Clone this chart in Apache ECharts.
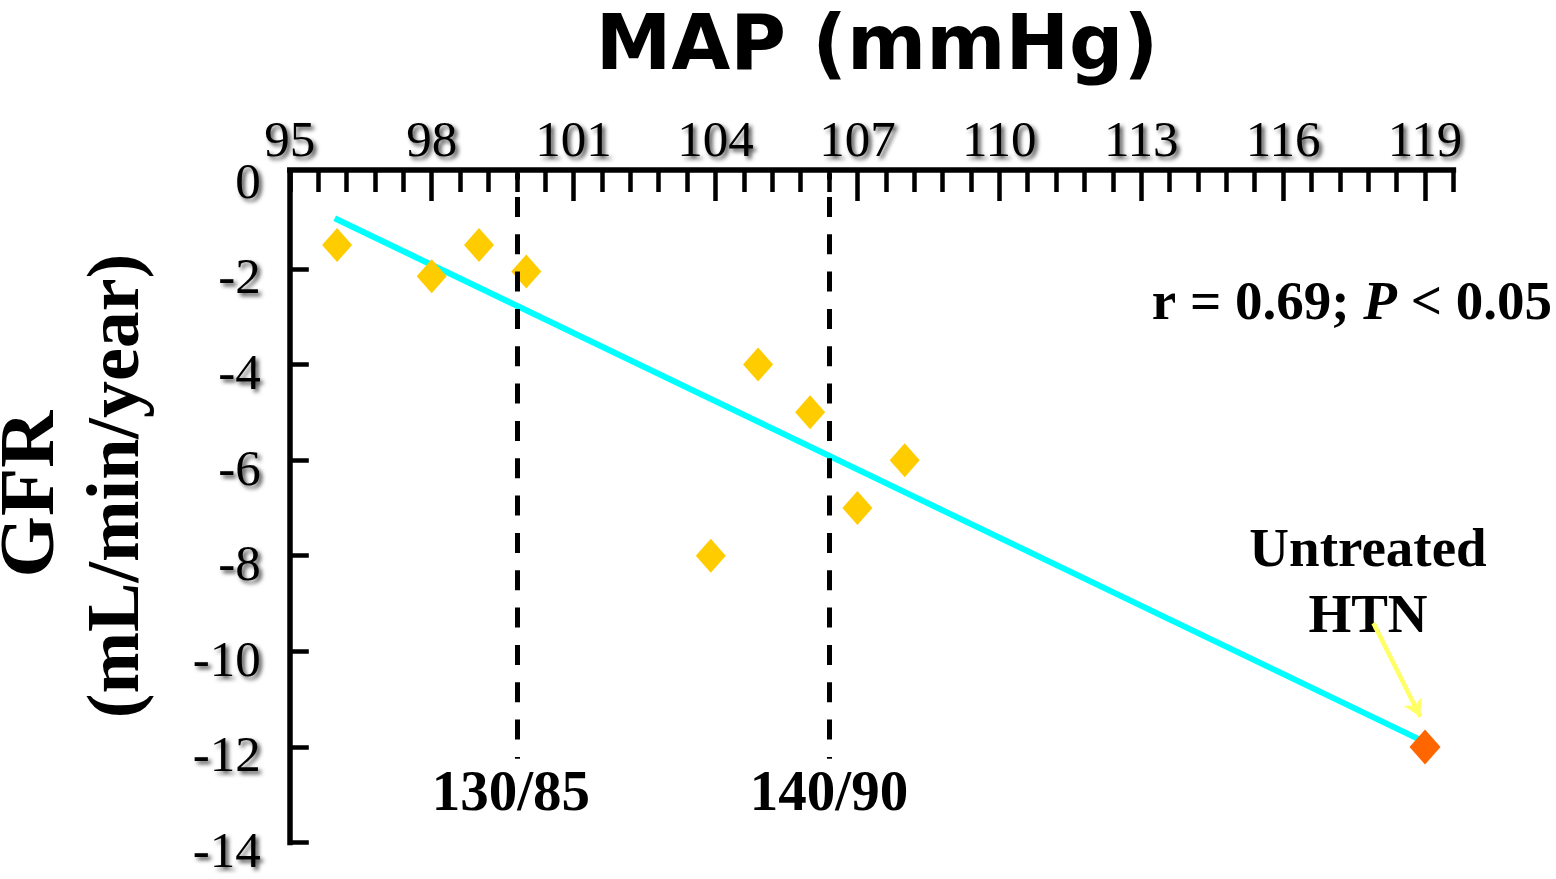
<!DOCTYPE html>
<html>
<head>
<meta charset="utf-8">
<title>GFR decline vs MAP</title>
<script src="https://cdn.jsdelivr.net/npm/echarts@6/dist/echarts.min.js"></script>
<style>
  html, body { margin: 0; padding: 0; background: #ffffff; }
  #chart { width: 1556px; height: 879px; }
</style>
</head>
<body>
<div id="chart"></div>
<script>
// Top axis: mean arterial pressure (mmHg)
const mapLabelValues = [95, 98, 101, 104, 107, 110, 113, 116, 119];
const mapMajorTicks = [98, 101, 104, 107, 110, 113, 116, 119];
// Left axis: GFR change (mL/min/year)
const gfrTickValues = [-2, -4, -6, -8, -10, -12, -14];

// Treated trial groups
const trialMap = [96, 98, 99, 100, 103.9, 104.9, 106, 107, 108];
const trialGfr = [-1.5, -2.15, -1.5, -2.05, -8, -4, -5, -7, -6];

// Untreated hypertension group
const untreatedMap = [119];
const untreatedGfr = [-12];

// Regression line end points
const fitMap = [95.95, 119];
const fitGfr = [-0.94, -11.9];

// Blood pressure targets expressed as MAP
const bpTargetMap = [99.8, 106.4];
const bpTargetNames = ['130/85', '140/90'];
const bpTargetBottom = -12.25;

// Annotation arrow from the label to the untreated point
const arrowFrom = [117.91, -9.41];
const arrowTo = [118.9, -11.37];

const serif = "'Liberation Serif', 'Times New Roman', serif";
const shadow = {
  textShadowColor: 'rgba(0,0,0,0.7)',
  textShadowBlur: 4,
  textShadowOffsetX: 3,
  textShadowOffsetY: 3
};

const chart = echarts.init(document.getElementById('chart'), null, { renderer: 'canvas' });

const option = {
  animation: false,
  backgroundColor: '#ffffff',
  grid: {
    left: 289.8,
    top: 173.4,
    right: 102.6,
    bottom: 36.5,
    containLabel: false,
    outerBoundsMode: 'none'
  },
  xAxis: [
    {
      type: 'value',
      position: 'top',
      min: 95,
      max: 119.6,
      interval: 0.6,
      offset: 4,
      axisLine: { show: true, onZero: false, lineStyle: { color: '#000', width: 5.5, cap: 'square' } },
      axisTick: { show: true, inside: true, length: 22.6, lineStyle: { color: '#000', width: 4.5 } },
      axisLabel: { show: false },
      splitLine: { show: false }
    },
    {
      type: 'value',
      position: 'top',
      min: 95,
      max: 119.6,
      offset: 4,
      axisLine: { show: false, onZero: false },
      axisTick: {
        show: true, inside: true, length: 31.6,
        customValues: mapMajorTicks,
        lineStyle: { color: '#000', width: 4.5 }
      },
      axisLabel: Object.assign({
        show: true,
        customValues: mapLabelValues,
        margin: 1,
        color: '#000',
        fontFamily: serif,
        fontSize: 51
      }, shadow),
      splitLine: { show: false }
    }
  ],
  yAxis: {
    type: 'value',
    position: 'left',
    min: -14,
    max: 0,
    interval: 2,
    axisLine: { show: true, onZero: false, lineStyle: { color: '#000', width: 5.5, cap: 'square' } },
    axisTick: {
      show: true, inside: true, length: 19,
      customValues: gfrTickValues,
      lineStyle: { color: '#000', width: 4.5 }
    },
    axisLabel: Object.assign({
      show: true,
      margin: 29,
      color: '#000',
      fontFamily: serif,
      fontSize: 51,
      verticalAlign: 'top',
      lineHeight: 22,
      formatter: (v) => String(v)
    }, shadow),
    splitLine: { show: false }
  },
  series: [
    {
      name: 'Regression',
      type: 'line',
      xAxisIndex: 0,
      data: fitMap.map((x, i) => [x, fitGfr[i]]),
      showSymbol: false,
      symbol: 'none',
      silent: true,
      lineStyle: { color: '#00FFFF', width: 6 },
      z: 2
    },
    {
      name: 'Trials',
      type: 'scatter',
      xAxisIndex: 0,
      data: trialMap.map((x, i) => [x, trialGfr[i]]),
      symbol: 'diamond',
      symbolSize: [30, 34],
      itemStyle: { color: '#FFCC00', opacity: 1 },
      silent: true,
      z: 3,
      markLine: {
        silent: true,
        symbol: ['none', 'none'],
        lineStyle: { color: '#000', width: 5, type: [20, 17.33], dashOffset: 13.8, opacity: 1 },
        label: {
          show: true,
          position: 'end',
          distance: 8,
          formatter: '{b}',
          color: '#000',
          fontFamily: serif,
          fontWeight: 'bold',
          fontSize: 57
        },
        data: bpTargetMap.map((x, i) => [
          { name: bpTargetNames[i], coord: [x, 0], label: { offset: [i === 0 ? -6 : 0, 0] } },
          { coord: [x, bpTargetBottom] }
        ])
      }
    },
    {
      name: 'Untreated HTN',
      type: 'scatter',
      xAxisIndex: 0,
      data: untreatedMap.map((x, i) => [x, untreatedGfr[i]]),
      symbol: 'diamond',
      symbolSize: [31, 35],
      itemStyle: { color: '#FF6600', opacity: 1 },
      silent: true,
      z: 4,
      markLine: {
        silent: true,
        symbol: ['none', 'arrow'],
        symbolSize: [15, 17],
        lineStyle: { color: '#FFFF66', width: 4.5, type: 'solid', opacity: 1 },
        label: { show: false },
        data: [[{ coord: arrowFrom }, { coord: arrowTo }]]
      }
    }
  ],
  graphic: [
    {
      type: 'text',
      x: 877,
      y: 49,
      silent: true,
      style: {
        text: 'MAP (mmHg)',
        fill: '#000',
        fontFamily: "'DejaVu Sans', Verdana, sans-serif",
        fontWeight: 'bold',
        fontSize: 76,
        textAlign: 'center',
        textVerticalAlign: 'middle'
      }
    },
    {
      type: 'text',
      x: 33,
      y: 494,
      rotation: Math.PI / 2,
      silent: true,
      style: {
        text: 'GFR',
        fill: '#000',
        fontFamily: serif,
        fontWeight: 'bold',
        fontSize: 79,
        textAlign: 'center',
        textVerticalAlign: 'middle'
      }
    },
    {
      type: 'text',
      x: 119,
      y: 486,
      rotation: Math.PI / 2,
      silent: true,
      style: {
        text: '(mL/min/year)',
        fill: '#000',
        fontFamily: serif,
        fontWeight: 'bold',
        fontSize: 74,
        textAlign: 'center',
        textVerticalAlign: 'middle'
      }
    },
    {
      type: 'text',
      x: 1552,
      y: 305,
      silent: true,
      style: {
        text: '{n|r = 0.69; }{i|P}{n| < 0.05}',
        textAlign: 'right',
        textVerticalAlign: 'middle',
        rich: {
          n: { fill: '#000', fontFamily: serif, fontWeight: 'bold', fontSize: 55 },
          i: { fill: '#000', fontFamily: serif, fontWeight: 'bold', fontStyle: 'italic', fontSize: 55 }
        }
      }
    },
    {
      type: 'text',
      x: 1368,
      y: 585,
      silent: true,
      style: {
        text: 'Untreated\nHTN',
        fill: '#000',
        fontFamily: serif,
        fontWeight: 'bold',
        fontSize: 55,
        lineHeight: 66,
        textAlign: 'center',
        textVerticalAlign: 'middle'
      }
    }
  ]
};

chart.setOption(option);
</script>
</body>
</html>
